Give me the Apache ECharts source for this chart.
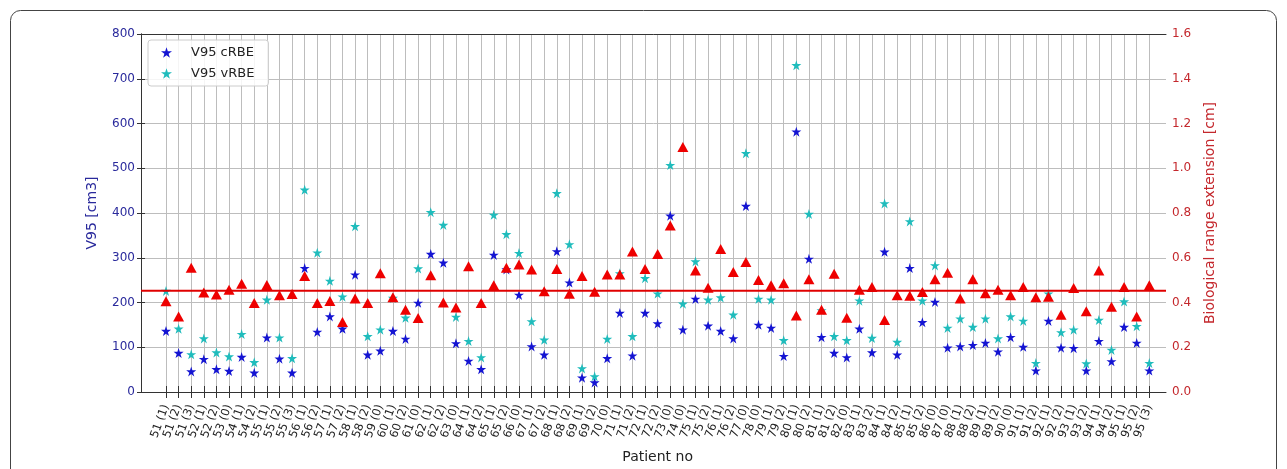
<!DOCTYPE html>
<html>
<head>
<meta charset="utf-8">
<script src="https://cdn.jsdelivr.net/npm/echarts@6/dist/echarts.min.js"></script>
<style>
html,body{margin:0;padding:0;background:#fff;}
#chart{width:1287px;height:469px;}
</style>
</head>
<body>
<div id="chart"></div>
<script>
const categories = [
 '51 (1)','51 (2)','51 (3)','52 (1)','52 (2)','53 (0)','54 (1)','54 (2)','55 (1)','55 (2)',
 '55 (3)','56 (1)','56 (2)','57 (1)','57 (2)','58 (1)','58 (2)','59 (0)','60 (1)','60 (2)',
 '61 (0)','62 (1)','62 (2)','63 (0)','64 (1)','64 (2)','65 (1)','65 (2)','66 (0)','67 (1)',
 '67 (2)','68 (1)','68 (2)','69 (1)','69 (2)','70 (0)','71 (1)','71 (2)','72 (1)','72 (2)',
 '73 (0)','74 (0)','75 (1)','75 (2)','76 (1)','76 (2)','77 (0)','78 (0)','79 (1)','79 (2)',
 '80 (1)','80 (2)','81 (1)','81 (2)','82 (0)','83 (1)','83 (2)','84 (1)','84 (2)','85 (1)',
 '85 (2)','86 (0)','87 (0)','88 (1)','88 (2)','89 (1)','89 (2)','90 (0)','91 (1)','91 (2)',
 '92 (1)','92 (2)','93 (1)','93 (2)','94 (1)','94 (2)','95 (1)','95 (2)','95 (3)'
];
const v95cRBE = [
 125,75,33,61,38,34,66,30,110,62,
 30,268,123,158,130,253,71,80,125,107,
 189,300,280,97,57,38,298,265,207,90,
 71,306,235,19,8,63,166,69,166,142,
 387,128,198,137,125,108,409,139,132,68,
 578,289,111,75,65,130,76,305,71,268,
 145,191,87,90,93,98,78,111,89,35,
 148,87,86,35,102,56,134,98,35
];
const v95vRBE = [
 216,130,72,108,76,67,118,54,196,110,
 63,446,303,239,203,363,113,128,200,155,
 267,395,366,157,102,65,389,345,302,147,
 105,438,322,40,22,107,256,113,245,210,
 502,187,283,196,201,162,529,198,196,104,
 729,391,172,113,104,194,109,415,100,374,
 194,274,132,153,134,153,108,158,148,52,
 210,122,128,51,150,82,192,136,52
];
const rangeExtension = [
 0.385,0.316,0.537,0.425,0.416,0.437,0.465,0.377,0.459,0.413,
 0.418,0.500,0.377,0.386,0.291,0.398,0.377,0.512,0.403,0.347,
 0.309,0.503,0.380,0.357,0.544,0.377,0.458,0.537,0.552,0.529,
 0.431,0.532,0.419,0.500,0.428,0.507,0.507,0.611,0.532,0.600,
 0.729,1.086,0.525,0.447,0.623,0.518,0.564,0.482,0.458,0.467,
 0.321,0.485,0.347,0.510,0.310,0.437,0.450,0.300,0.413,0.410,
 0.427,0.485,0.515,0.398,0.485,0.422,0.437,0.413,0.450,0.403,
 0.406,0.324,0.446,0.340,0.525,0.360,0.450,0.316,0.458
];
const meanRangeExtension = 0.452;
const leftTicks = {min:0, max:800, interval:100};
const rightTicks = {min:0, max:1.6, interval:0.2};

const STAR = 'path://M50,0 L61.2,34.5 L97.6,34.5 L68.2,55.9 L79.4,90.5 L50,69.1 L20.6,90.5 L31.8,55.9 L2.4,34.5 L38.8,34.5 Z';
const FONT = 'DejaVu Sans';
const BLUE_TXT = '#2a2a9c';
const RED_TXT = '#c4282d';
const GRID_C = '#bdbdbd';
const SPINE = '#333333';

const chart = echarts.init(document.getElementById('chart'));
chart.setOption({
  animation: false,
  backgroundColor: '#ffffff',
  textStyle: {fontFamily: FONT},
  graphic: [{
    type: 'rect', z: -10, silent: true,
    shape: {x: 10.5, y: 10.5, width: 1266, height: 540, r: 10},
    style: {fill: 'none', stroke: '#444', lineWidth: 1}
  }],
  legend: {
    left: 148, top: 40, orient: 'vertical',
    padding: [6, 14, 6, 13], itemGap: 8,
    itemWidth: 11, itemHeight: 11,
    backgroundColor: 'rgba(255,255,255,0.85)',
    borderColor: '#cccccc', borderWidth: 1, borderRadius: 3,
    textStyle: {fontFamily: FONT, fontSize: 13, color: '#222', padding: [0, 0, 0, 14]},
    data: [{name: 'V95 cRBE', icon: STAR}, {name: 'V95 vRBE', icon: STAR}]
  },
  grid: [
    {left: 166, right: 137.7, top: 34, bottom: 77},
    {left: 141, right: 121, top: 34, bottom: 77}
  ],
  xAxis: [
    {
      type: 'category', gridIndex: 0, data: categories, boundaryGap: false,
      axisLine: {show: false},
      axisTick: {show: true, interval: 0, length: 12, lineStyle: {color: SPINE}},
      axisLabel: {interval: 0, rotate: 70, margin: 19, fontSize: 11.5, fontFamily: FONT, color: '#222'},
      splitLine: {show: true, interval: 0, lineStyle: {color: GRID_C, width: 1}},
      name: 'Patient no', nameLocation: 'middle', nameGap: 64,
      nameTextStyle: {fontSize: 14, fontFamily: FONT, color: '#222'}
    },
    {
      type: 'value', gridIndex: 1, min: 0, max: 1, position: 'bottom',
      axisLine: {show: true, onZero: false, lineStyle: {color: SPINE, width: 1}},
      axisTick: {show: false}, axisLabel: {show: false}, splitLine: {show: false}
    },
    {
      type: 'value', gridIndex: 1, min: 0, max: 1, position: 'top',
      axisLine: {show: true, onZero: false, lineStyle: {color: SPINE, width: 1}},
      axisTick: {show: false}, axisLabel: {show: false}, splitLine: {show: false}
    }
  ],
  yAxis: [
    {type: 'value', gridIndex: 0, show: false, min: leftTicks.min, max: leftTicks.max},
    {type: 'value', gridIndex: 0, show: false, min: rightTicks.min, max: rightTicks.max},
    {
      type: 'value', gridIndex: 1, position: 'left',
      min: leftTicks.min, max: leftTicks.max, interval: leftTicks.interval,
      axisLine: {show: true, lineStyle: {color: SPINE}},
      axisTick: {show: true, length: 4, lineStyle: {color: SPINE}},
      axisLabel: {fontSize: 12, fontFamily: FONT, color: BLUE_TXT, margin: 6},
      splitLine: {show: true, lineStyle: {color: GRID_C, width: 1}},
      name: 'V95 [cm3]', nameLocation: 'middle', nameGap: 42, nameRotate: 90,
      nameTextStyle: {fontSize: 14, fontFamily: FONT, color: BLUE_TXT}
    },
    {
      type: 'value', gridIndex: 1, position: 'right',
      min: rightTicks.min, max: rightTicks.max, interval: rightTicks.interval,
      axisLine: {show: true, lineStyle: {color: SPINE}},
      axisTick: {show: true, length: 4, lineStyle: {color: SPINE}},
      axisLabel: {fontSize: 12, fontFamily: FONT, color: RED_TXT, margin: 6,
        formatter: v => v.toFixed(1)},
      splitLine: {show: false},
      name: 'Biological range extension [cm]', nameLocation: 'middle', nameGap: 37, nameRotate: 90,
      nameTextStyle: {fontSize: 14, fontFamily: FONT, color: RED_TXT}
    }
  ],
  series: [
    {
      name: 'V95 cRBE', type: 'scatter', xAxisIndex: 0, yAxisIndex: 0,
      symbol: STAR, symbolSize: 10, data: v95cRBE,
      itemStyle: {color: '#1414d2', opacity: 1}
    },
    {
      name: 'V95 vRBE', type: 'scatter', xAxisIndex: 0, yAxisIndex: 0,
      symbol: STAR, symbolSize: 10, data: v95vRBE,
      itemStyle: {color: '#1fbcbc', opacity: 1}
    },
    {
      name: 'Range extension', type: 'scatter', xAxisIndex: 0, yAxisIndex: 1,
      symbol: 'triangle', symbolSize: [11, 10], data: rangeExtension,
      itemStyle: {color: '#ee0000', opacity: 1}
    },
    {
      name: 'Mean', type: 'line', xAxisIndex: 1, yAxisIndex: 3,
      symbol: 'none', data: [[0, meanRangeExtension], [1, meanRangeExtension]],
      lineStyle: {color: '#e00000', width: 2}
    }
  ]
});
</script>
</body>
</html>
